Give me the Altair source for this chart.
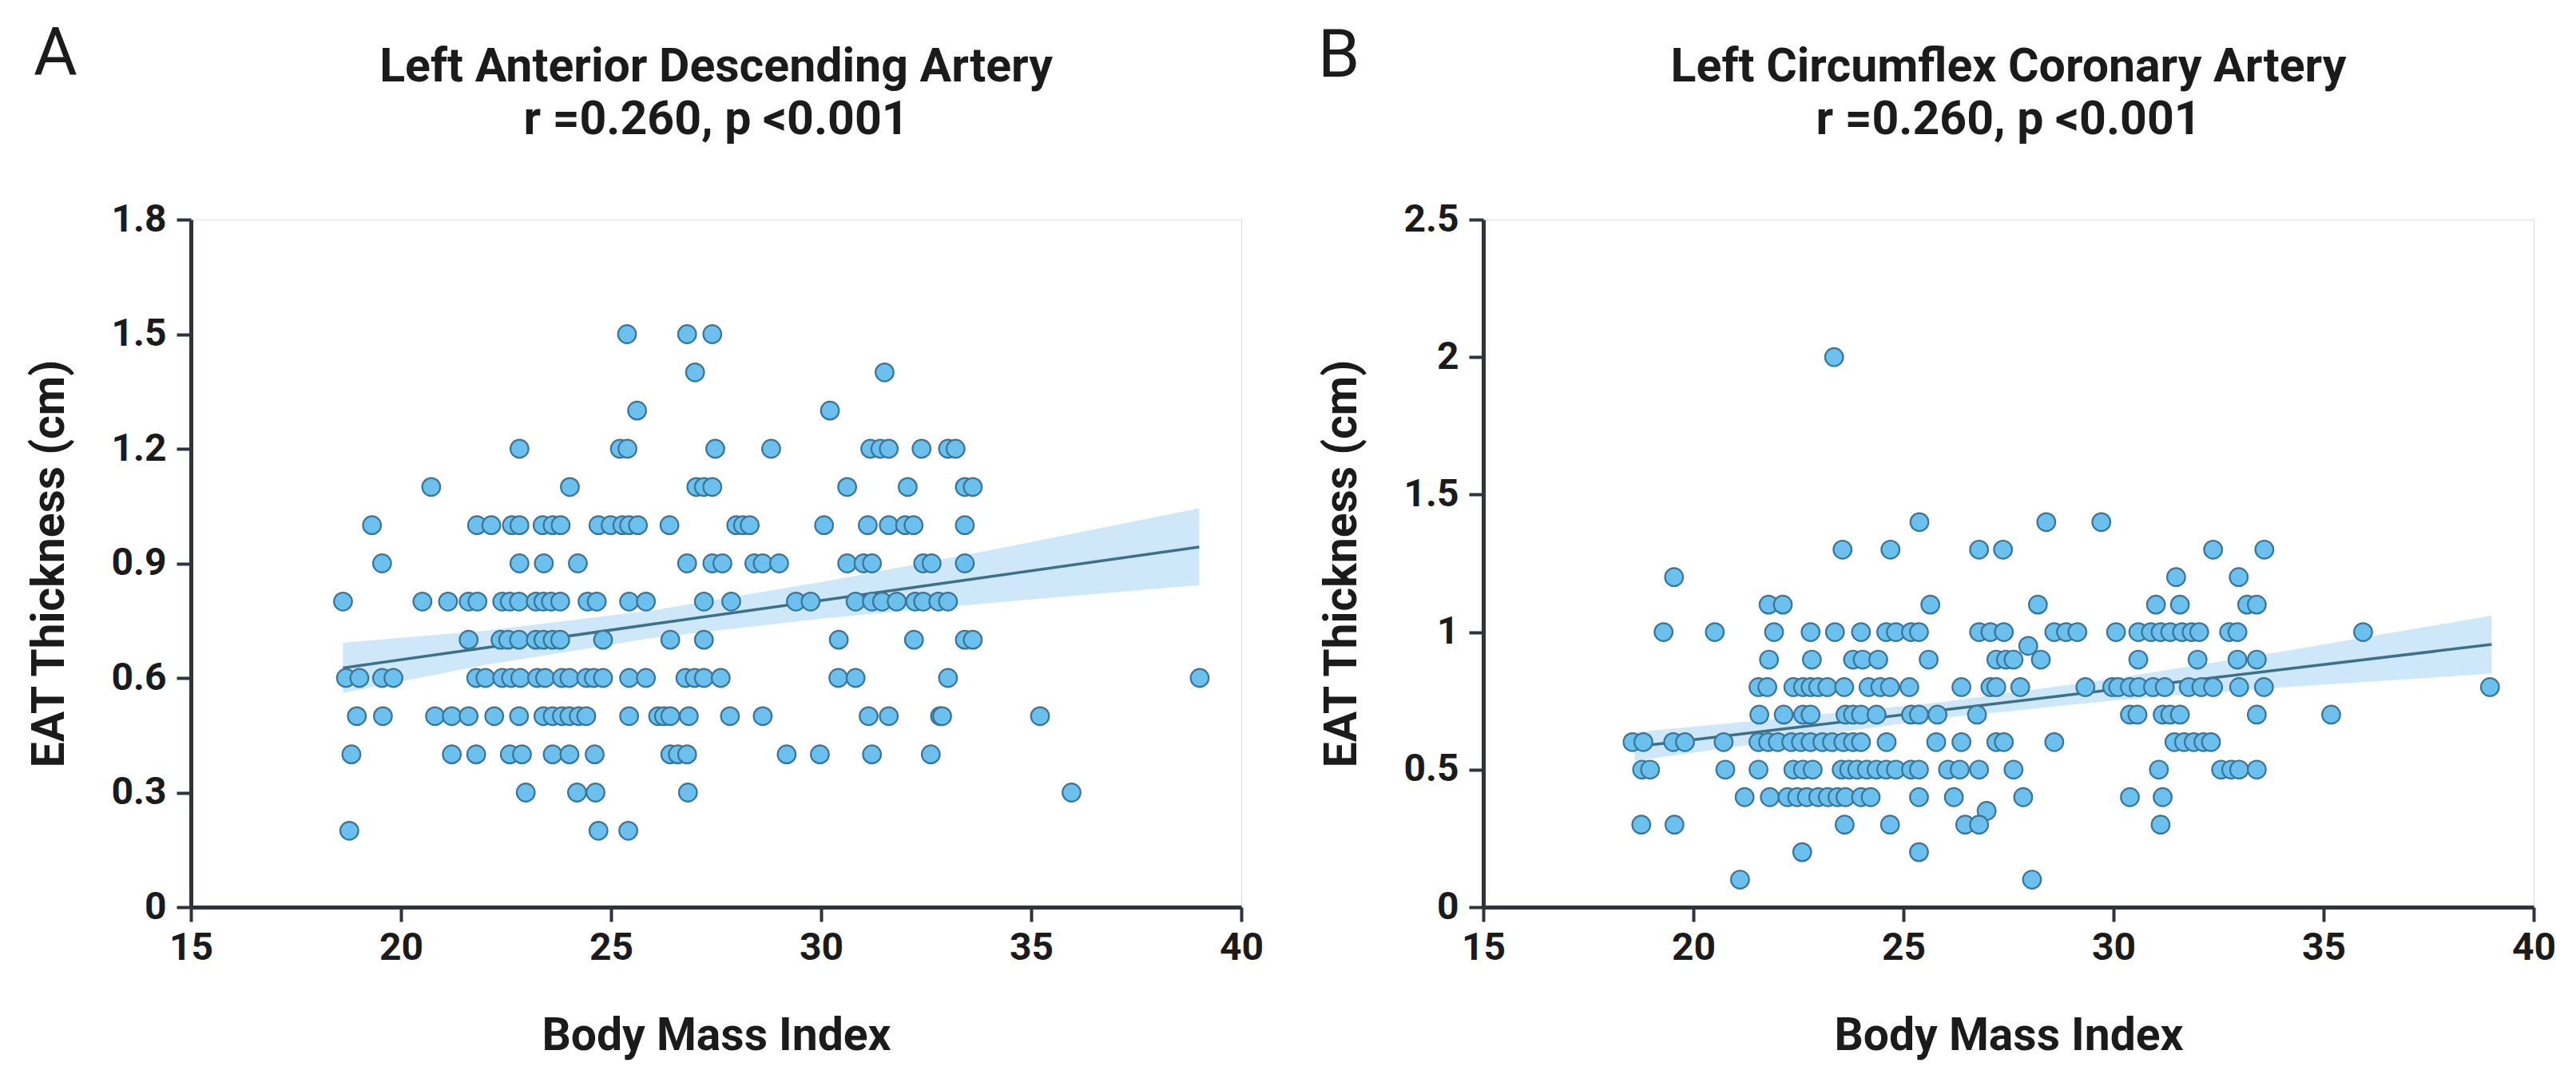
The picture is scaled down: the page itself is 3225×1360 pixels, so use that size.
import altair as alt
import pandas as pd

# ---------------- data ----------------
# Panel A: Left Anterior Descending Artery  (EAT level -> BMI values)
A_LEVELS = [1.5, 1.4, 1.3, 1.2, 1.1, 1.0, 0.9, 0.8, 0.7, 0.6, 0.5, 0.4, 0.3, 0.2]
A_BMI_15 = [25.38, 26.81, 27.41]
A_BMI_14 = [27.0, 31.51]
A_BMI_13 = [25.62, 30.21]
A_BMI_12 = [22.82, 25.21, 25.39, 27.48, 28.81, 31.17, 31.41, 31.61, 32.39, 33.02, 33.2]
A_BMI_11 = [20.72, 24.02, 27.03, 27.21, 27.41, 30.62, 32.06, 33.42, 33.61]
A_BMI_10 = [19.31, 21.81, 22.15, 22.64, 22.82, 23.37, 23.61, 23.80, 24.70, 24.99, 25.27,
            25.43, 25.64, 26.39, 27.98, 28.14, 28.30, 30.07, 31.11, 31.61, 32.0, 32.2, 33.42]
A_BMI_09 = [19.55, 22.82, 23.40, 24.21, 26.81, 27.41, 27.65, 28.41, 28.61, 29.0, 30.62,
            31.01, 31.21, 32.43, 32.63, 33.42]
A_BMI_08 = [18.62, 20.51, 21.12, 21.61, 21.82, 22.41, 22.59, 22.81, 23.21, 23.39, 23.57,
            23.79, 24.44, 24.66, 25.43, 25.83, 27.21, 27.86, 29.4, 29.75, 30.82, 31.21,
            31.45, 31.80, 32.24, 32.43, 32.79, 33.02]
A_BMI_07 = [21.61, 22.37, 22.55, 22.81, 23.21, 23.39, 23.61, 23.79, 24.81, 26.41, 27.21,
            30.42, 32.21, 33.42, 33.61]
A_BMI_06 = [18.69, 19.01, 19.55, 19.82, 21.79, 22.01, 22.41, 22.62, 22.84, 23.24, 23.43,
            23.83, 24.01, 24.41, 24.59, 24.81, 25.43, 25.83, 26.77, 26.99, 27.21, 27.61,
            30.41, 30.82, 33.02, 39.01]
A_BMI_05 = [18.95, 19.57, 20.81, 21.21, 21.61, 22.22, 22.81, 23.39, 23.61, 23.83, 24.01,
            24.23, 24.41, 25.43, 26.12, 26.26, 26.41, 26.85, 27.83, 28.61, 31.13, 31.61,
            32.83, 32.88, 35.21]
A_BMI_04 = [18.82, 21.21, 21.79, 22.59, 22.88, 23.61, 24.01, 24.61, 26.41, 26.59, 26.81,
            29.18, 29.97, 31.21, 32.61]
A_BMI_03 = [22.97, 24.19, 24.63, 26.83, 35.96]
A_BMI_02 = [18.77, 24.70, 25.41]
A_ROWS = [A_BMI_15, A_BMI_14, A_BMI_13, A_BMI_12, A_BMI_11, A_BMI_10, A_BMI_09,
          A_BMI_08, A_BMI_07, A_BMI_06, A_BMI_05, A_BMI_04, A_BMI_03, A_BMI_02]

# fitted line and confidence band for panel A
A_FIT_X = [18.62, 22.0, 26.0, 30.0, 34.0, 39.0]
A_FIT_MID = [0.626, 0.679, 0.741, 0.803, 0.865, 0.943]
A_FIT_LO = [0.561, 0.634, 0.705, 0.755, 0.796, 0.843]
A_FIT_HI = [0.692, 0.724, 0.777, 0.851, 0.934, 1.044]

# Panel B: Left Circumflex Coronary Artery
B_LEVELS = [2.0, 1.4, 1.3, 1.2, 1.1, 1.0, 0.95, 0.9, 0.8, 0.7, 0.6, 0.5, 0.4, 0.35, 0.3, 0.2, 0.1]
B_BMI_20 = [23.35]
B_BMI_14 = [25.38, 28.40, 29.71]
B_BMI_13 = [23.55, 24.69, 26.80, 27.37, 32.37, 33.59]
B_BMI_12 = [19.54, 31.49, 32.98]
B_BMI_11 = [21.79, 22.13, 25.64, 28.20, 31.01, 31.58, 33.18, 33.41]
B_BMI_10 = [19.29, 20.51, 21.92, 22.79, 23.37, 23.99, 24.59, 24.82, 25.18, 25.37, 26.80,
            27.07, 27.39, 28.59, 28.87, 29.14, 30.06, 30.59, 30.89, 31.12, 31.35, 31.63,
            31.86, 32.04, 32.75, 32.95, 35.94]
B_BMI_095 = [27.97]
B_BMI_09 = [21.80, 22.82, 23.80, 24.03, 24.40, 25.60, 27.21, 27.44, 27.62, 28.27, 30.59,
            32.0, 32.95, 33.41]
B_BMI_08 = [21.55, 21.76, 22.38, 22.61, 22.79, 22.97, 23.19, 23.59, 24.17, 24.45, 24.68,
            25.14, 26.38, 27.07, 27.21, 27.78, 29.33, 29.97, 30.11, 30.39, 30.60, 30.94,
            31.22, 31.79, 32.09, 32.37, 32.99, 33.58, 38.96]
B_BMI_07 = [21.57, 22.15, 22.61, 22.79, 23.62, 23.80, 23.99, 24.36, 25.18, 25.37, 25.81,
            26.75, 30.39, 30.57, 31.17, 31.35, 31.58, 33.41, 35.18]
B_BMI_06 = [18.55, 18.81, 19.52, 19.80, 20.72, 21.55, 21.78, 22.01, 22.33, 22.56, 22.79,
            23.07, 23.30, 23.57, 23.80, 23.99, 24.60, 25.78, 26.38, 27.21, 27.39, 28.59,
            31.45, 31.68, 31.91, 32.14, 32.32]
B_BMI_05 = [18.78, 18.97, 20.76, 21.55, 22.38, 22.61, 22.84, 23.53, 23.71, 23.90, 24.13,
            24.36, 24.59, 24.82, 25.18, 25.37, 26.06, 26.34, 26.80, 27.62, 31.08, 32.56,
            32.80, 32.99, 33.41]
B_BMI_04 = [21.22, 21.82, 22.24, 22.47, 22.70, 22.97, 23.20, 23.43, 23.62, 23.99, 24.22,
            25.37, 26.20, 27.85, 30.39, 31.17]
B_BMI_035 = [26.98]
B_BMI_03 = [18.76, 19.55, 23.60, 24.68, 26.47, 26.80, 31.12]
B_BMI_02 = [22.59, 25.37]
B_BMI_01 = [21.11, 28.06]
B_ROWS = [B_BMI_20, B_BMI_14, B_BMI_13, B_BMI_12, B_BMI_11, B_BMI_10, B_BMI_095, B_BMI_09,
          B_BMI_08, B_BMI_07, B_BMI_06, B_BMI_05, B_BMI_04, B_BMI_035, B_BMI_03, B_BMI_02,
          B_BMI_01]

B_FIT_X = [18.6, 22.0, 26.0, 30.0, 34.0, 39.0]
B_FIT_MID = [0.583, 0.645, 0.718, 0.791, 0.864, 0.955]
B_FIT_LO = [0.531, 0.605, 0.689, 0.751, 0.799, 0.849]
B_FIT_HI = [0.636, 0.685, 0.747, 0.831, 0.929, 1.060]

X_TICKS = [15, 20, 25, 30, 35, 40]
A_Y_TICKS = [0, 0.3, 0.6, 0.9, 1.2, 1.5, 1.8]
B_Y_TICKS = [0, 0.5, 1.0, 1.5, 2.0, 2.5]

A_TITLE = ["Left Anterior Descending Artery", "r =0.260, p <0.001"]
B_TITLE = ["Left Circumflex Coronary Artery", "r =0.260, p <0.001"]
X_TITLE = "Body Mass Index"
Y_TITLE = "EAT Thickness (cm)"

# ---------------- styling ----------------
FONT = "Roboto"
TEXT = "#1b1b1b"
AXIS = "#2f333d"
PT_FILL = "#6cc0ee"
PT_STROKE = "#3a7699"
LINE = "#3e7088"
BAND = "#c9e6f8"

W, H = 1315, 861


def rows_to_df(levels, rows):
    recs = []
    for lv, xs in zip(levels, rows):
        for x in xs:
            recs.append({"bmi": x, "eat": lv})
    return pd.DataFrame(recs)


def text_mark(txt, x, y, size, weight, align):
    return alt.Chart(pd.DataFrame({"t": [txt]})).mark_text(
        font=FONT, fontSize=size, fontWeight=weight, color=TEXT, align=align,
        baseline="alphabetic").encode(text="t:N", x=alt.value(x), y=alt.value(y))


def panel(levels, rows, fx, fmid, flo, fhi, ydom, yticks, title, letter, ldx, ldy):
    df = rows_to_df(levels, rows)
    fit = pd.DataFrame({"bmi": fx, "mid": fmid, "lo": flo, "hi": fhi})
    xs = alt.Scale(domain=[15, 40], nice=False, zero=False)
    ys = alt.Scale(domain=ydom, nice=False, zero=True)
    xax = alt.Axis(values=X_TICKS, title=X_TITLE, grid=False, tickSize=18, tickWidth=4,
                   tickColor=AXIS, domainColor=AXIS, domainWidth=5, labelFont=FONT,
                   labelFontSize=48, labelFontWeight="bold", labelColor=TEXT,
                   labelPadding=9, labelFlush=False, titleFont=FONT, titleFontSize=57,
                   titleFontWeight="bold", titleColor=TEXT, titlePadding=58)
    yax = alt.Axis(values=yticks, format=".1~f", title=Y_TITLE, grid=False, tickSize=18,
                   tickWidth=4, tickColor=AXIS, domainColor=AXIS, domainWidth=5,
                   labelFont=FONT, labelFontSize=48, labelFontWeight="bold",
                   labelColor=TEXT, labelPadding=13, labelFlush=False, titleFont=FONT,
                   titleFontSize=57, titleFontWeight="bold", titleColor=TEXT,
                   titlePadding=48)
    band = alt.Chart(fit).mark_area(color=BAND, opacity=0.9).encode(
        x=alt.X("bmi:Q", scale=xs, axis=xax),
        y=alt.Y("lo:Q", scale=ys, axis=yax),
        y2="hi:Q",
    )
    line = alt.Chart(fit).mark_line(color=LINE, strokeWidth=3.5).encode(
        x=alt.X("bmi:Q", scale=xs),
        y=alt.Y("mid:Q", scale=ys),
    )
    pts = alt.Chart(df).mark_circle(size=510, fill=PT_FILL, stroke=PT_STROKE,
                                    strokeWidth=2.2, opacity=1).encode(
        x=alt.X("bmi:Q", scale=xs),
        y=alt.Y("eat:Q", scale=ys),
    )
    lab = text_mark(letter, ldx, ldy, 84, "normal", "left")
    t1 = text_mark(title[0], W / 2, -173, 59, "bold", "center")
    t2 = text_mark(title[1], W / 2, -107, 59, "bold", "center")
    return alt.layer(band, line, pts, lab, t1, t2).properties(width=W, height=H)


pa = panel(A_LEVELS, A_ROWS, A_FIT_X, A_FIT_MID, A_FIT_LO, A_FIT_HI, [0, 1.8],
           A_Y_TICKS, A_TITLE, "A", -197, -181)
pb = panel(B_LEVELS, B_ROWS, B_FIT_X, B_FIT_MID, B_FIT_LO, B_FIT_HI, [0, 2.5],
           B_Y_TICKS, B_TITLE, "B", -207, -179)

chart = alt.hconcat(pa, pb, spacing=66).properties(
    padding={"left": 24, "top": 18, "right": 5, "bottom": 5}
).configure_view(stroke=None).configure(background="white")

chart.save("out.html", embed_options={"renderer": "svg", "actions": False})
